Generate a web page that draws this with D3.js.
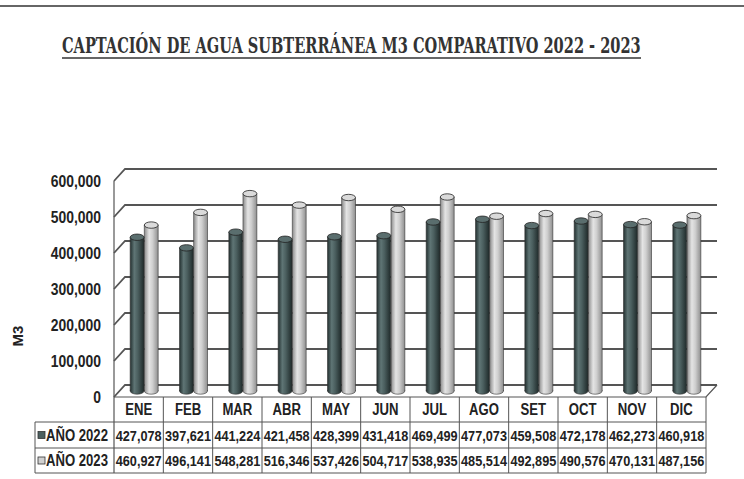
<!DOCTYPE html>
<html>
<head>
<meta charset="utf-8">
<script src="https://cdn.jsdelivr.net/npm/d3@7"></script>
<style>
  body { margin: 0; background: #fff; }
  svg { display: block; }
</style>
</head>
<body>
<script>
const months = ["ENE", "FEB", "MAR", "ABR", "MAY", "JUN", "JUL", "AGO", "SET", "OCT", "NOV", "DIC"];
const year2022 = [427078, 397621, 441224, 421458, 428399, 431418, 469499, 477073, 459508, 472178, 462273, 460918];
const year2023 = [460927, 496141, 548281, 516346, 537426, 504717, 538935, 485514, 492895, 490576, 470131, 487156];
const seriesNames = ["AÑO 2022", "AÑO 2023"];
const yTicks = [0, 100000, 200000, 300000, 400000, 500000, 600000];

const W = 744, H = 479;
const plot = { left: 114, right: 706, top: 181, bottom: 397 };
const depth = { dx: 11, dy: -12 };
const rows = [397, 422, 448, 473];
const sans = "'Liberation Sans', Arial, sans-serif";
const squeeze = 0.82; // narrow look

const svg = d3.select("body").append("svg")
    .attr("width", W)
    .attr("height", H);

const defs = svg.append("defs");
const cyl = [
    { id: "g22", stops: [["0%", "#233030"], ["30%", "#5f7575"], ["55%", "#4b5f5f"], ["100%", "#1f2a2a"]], top: "#5a6e6e" },
    { id: "g23", stops: [["0%", "#8a8a8a"], ["35%", "#e4e4e4"], ["60%", "#cfcfcf"], ["100%", "#8f8f8f"]], top: "#dadada" }
];
cyl.forEach(c => {
    const g = defs.append("linearGradient").attr("id", c.id)
        .attr("x1", 0).attr("x2", 1).attr("y1", 0).attr("y2", 0);
    c.stops.forEach(s => g.append("stop").attr("offset", s[0]).attr("stop-color", s[1]));
});

const x = d3.scaleBand().domain(months).range([plot.left, plot.right]);
const xs = d3.scaleBand().domain(seriesNames).range([x.bandwidth() / 2 - 14, x.bandwidth() / 2 + 14]).paddingInner(0.02);
const y = d3.scaleLinear().domain([0, 600000]).range([plot.bottom, plot.top]);

// narrow text helper
function narrowText(sel, tx, ty, str, size, anchor) {
    return sel.append("text")
        .attr("transform", `translate(${tx},${ty}) scale(${squeeze},1)`)
        .attr("text-anchor", anchor || "middle")
        .style("font-family", sans)
        .style("font-weight", "bold")
        .style("font-size", size + "px")
        .style("fill", "#222")
        .text(str);
}

// scanner edge line at top
svg.append("line")
    .attr("x1", 0).attr("x2", W).attr("y1", 6).attr("y2", 6)
    .attr("stroke", "#666").attr("stroke-width", 2);

// title, squeezed to the reference width
const title = svg.append("text")
    .attr("x", 0).attr("y", 0)
    .style("font-family", "'DejaVu Serif Condensed', 'DejaVu Serif', serif")
    .style("font-weight", "bold")
    .style("font-size", "22px")
    .style("fill", "#333")
    .text("CAPTACIÓN DE AGUA SUBTERRÁNEA M3 COMPARATIVO 2022 - 2023");
const tw = title.node().getComputedTextLength();
title.attr("transform", `translate(62,53) scale(${579 / tw},1)`);
svg.append("line")
    .attr("x1", 62).attr("x2", 641).attr("y1", 58).attr("y2", 58)
    .attr("stroke", "#333").attr("stroke-width", 1.6);

// walls and gridlines
const grid = svg.append("g").attr("stroke", "#555").attr("fill", "none");
yTicks.forEach(t => {
    grid.append("path")
        .attr("stroke-width", 1.8)
        .attr("d", `M${plot.left},${y(t)} L${plot.left + depth.dx},${y(t) + depth.dy} L${plot.right + depth.dx},${y(t) + depth.dy}`);
});
grid.append("line")
    .attr("stroke-width", 1.2)
    .attr("x1", plot.left).attr("x2", plot.left)
    .attr("y1", y(600000)).attr("y2", rows[3]);
grid.append("path")
    .attr("stroke-width", 1.2)
    .attr("d", `M${plot.left},${plot.bottom} L${plot.right},${plot.bottom} L${plot.right + depth.dx},${plot.bottom + depth.dy}`);

// cylinders at mid depth
const mdx = depth.dx / 2, mdy = depth.dy / 2;
const bw = xs.bandwidth();
const ry = 3.2;
const bars = svg.append("g");
months.forEach((m, i) => {
    [year2023[i], year2022[i]].forEach((v, k) => {
        const s = k === 0 ? 1 : 0;
        const c = cyl[s];
        const bx = x(m) + xs(seriesNames[s]) + mdx;
        const yTop = y(v) + mdy;
        const yBot = y(0) + mdy;
        const g = bars.append("g");
        g.append("ellipse")
            .attr("cx", bx + bw / 2).attr("cy", yBot)
            .attr("rx", bw / 2).attr("ry", ry)
            .attr("fill", `url(#${c.id})`).attr("stroke", "#333").attr("stroke-width", 0.6);
        g.append("rect")
            .attr("x", bx).attr("y", yTop)
            .attr("width", bw).attr("height", yBot - yTop)
            .attr("fill", `url(#${c.id})`);
        g.append("path")
            .attr("d", `M${bx},${yTop} L${bx},${yBot} M${bx + bw},${yTop} L${bx + bw},${yBot}`)
            .attr("stroke", "#333").attr("stroke-width", 0.6);
        g.append("ellipse")
            .attr("cx", bx + bw / 2).attr("cy", yTop)
            .attr("rx", bw / 2).attr("ry", ry)
            .attr("fill", c.top).attr("stroke", "#222").attr("stroke-width", 0.8);
    });
});

// y axis labels
svg.append("g")
    .attr("transform", `translate(${plot.left},0)`)
    .call(d3.axisLeft(y).tickValues(yTicks).tickFormat(d3.format(",")).tickSize(0).tickPadding(13 / squeeze))
    .call(g => g.select(".domain").remove())
    .selectAll("text")
    .attr("transform", `scale(${squeeze},1)`)
    .style("font-family", sans)
    .style("font-weight", "bold")
    .style("font-size", "17px")
    .style("fill", "#222");

svg.append("text")
    .attr("transform", "translate(23,336) rotate(-90)")
    .attr("text-anchor", "middle")
    .style("font-family", sans)
    .style("font-weight", "bold")
    .style("font-size", "15px")
    .style("fill", "#222")
    .text("M3");

// data table
const table = svg.append("g");
const tl = table.append("g").attr("stroke", "#555").attr("stroke-width", 1);
[1, 2, 3].forEach(r => {
    tl.append("line").attr("x1", 35).attr("x2", plot.right).attr("y1", rows[r]).attr("y2", rows[r]);
});
tl.append("line").attr("x1", 35).attr("x2", 35).attr("y1", rows[1]).attr("y2", rows[3]);
months.forEach(m => {
    tl.append("line").attr("x1", x(m) + x.bandwidth()).attr("x2", x(m) + x.bandwidth())
        .attr("y1", rows[0]).attr("y2", rows[3]);
});

months.forEach(m => {
    narrowText(table, x(m) + x.bandwidth() / 2, (rows[0] + rows[1]) / 2 + 5.5, m, 16);
});

const fmt = d3.format(",");
[year2022, year2023].forEach((vals, r) => {
    const yMid = (rows[r + 1] + rows[r + 2]) / 2;
    vals.forEach((v, i) => {
        narrowText(table, x(months[i]) + x.bandwidth() / 2, yMid + 5.5, fmt(v), 15.5);
    });
    table.append("rect")
        .attr("x", 38).attr("y", yMid - 3.5)
        .attr("width", 7).attr("height", 7)
        .attr("fill", r === 0 ? "#4b5f5f" : "#d0d0d0")
        .attr("stroke", "#333").attr("stroke-width", 0.8);
    narrowText(table, 46, yMid + 5.5, seriesNames[r], 16, "start");
});
</script>
</body>
</html>
